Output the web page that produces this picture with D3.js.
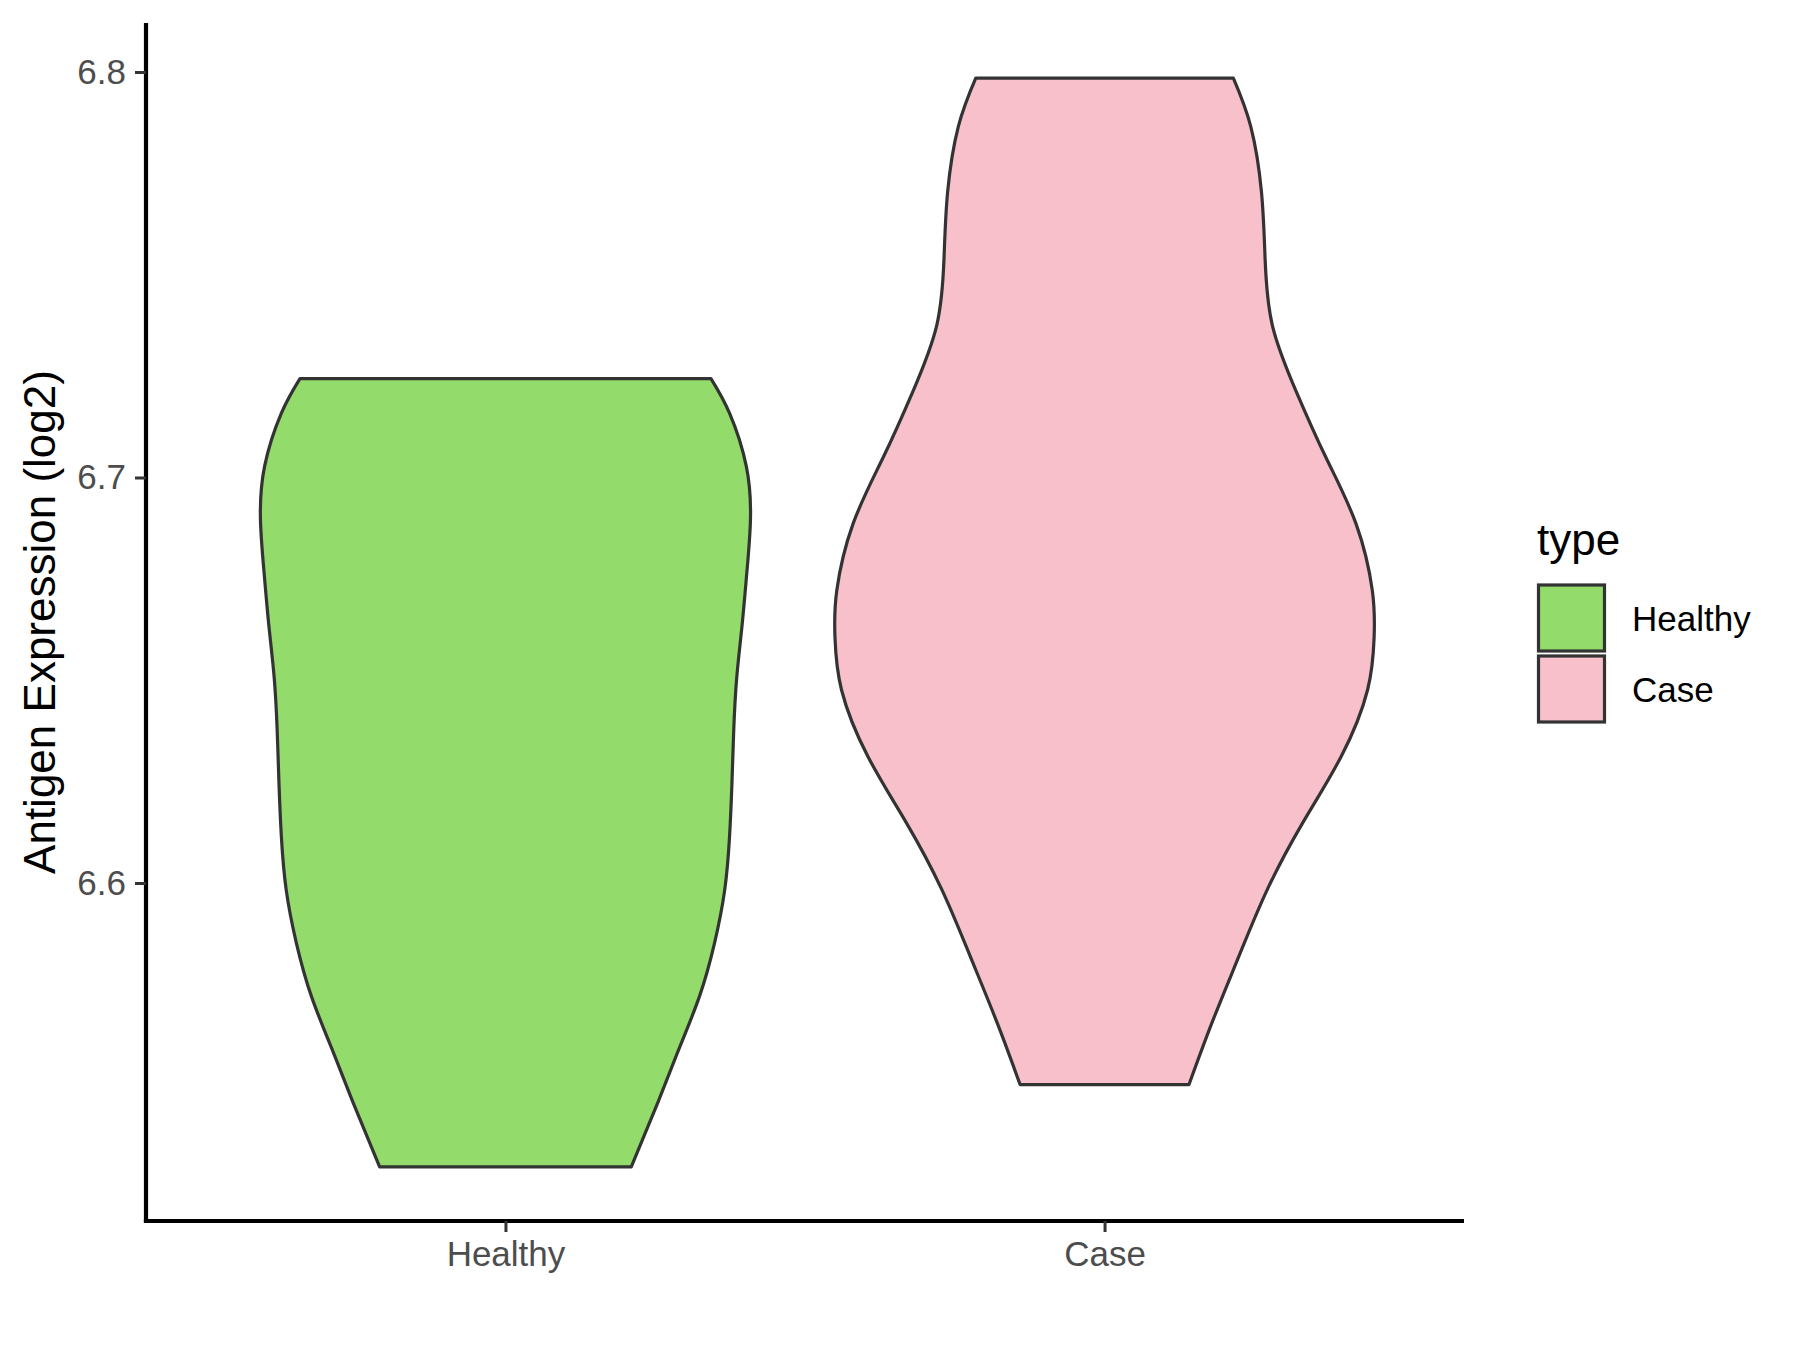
<!DOCTYPE html>
<html>
<head>
<meta charset="utf-8">
<script src="https://cdn.jsdelivr.net/npm/d3@7"></script>
<style>
  body { margin: 0; background: #fff; }
  text { font-family: Arial, "Liberation Sans", sans-serif; }
</style>
</head>
<body>
<script>
// groups and colours
var groups = ["Healthy", "Case"];
var fills = ["#93DB6A", "#F7C0CB"];
var yTicks = [6.6, 6.7, 6.8];

// violin outlines: value (log2) and half width (fraction of a category step)
var healthyValues = [6.5300, 6.5461, 6.5592, 6.5721, 6.5852, 6.5983, 6.6113, 6.6244, 6.6375, 6.6506, 6.6636, 6.6767, 6.6898, 6.7028, 6.7159, 6.7244];
var healthyWidths = [0.210, 0.255, 0.290, 0.324, 0.349, 0.366, 0.374, 0.378, 0.381, 0.386, 0.395, 0.403, 0.409, 0.402, 0.374, 0.343];

var caseValues = [6.5503, 6.5658, 6.5822, 6.5985, 6.6149, 6.6312, 6.6476, 6.6607, 6.6721, 6.6885, 6.7048, 6.7212, 6.7376, 6.7539, 6.7703, 6.7866, 6.7985];
var caseWidths = [0.141, 0.180, 0.225, 0.272, 0.331, 0.395, 0.439, 0.450, 0.447, 0.420, 0.370, 0.320, 0.280, 0.268, 0.262, 0.244, 0.215];

var width = 1800, height = 1350;
var margin = { top: 23, right: 336, bottom: 129, left: 146 };

var svg = d3.select("body").append("svg")
  .attr("width", width)
  .attr("height", height);

var x = d3.scalePoint()
  .domain(groups)
  .range([margin.left, width - margin.right])
  .padding(0.6);

var y = d3.scaleLinear()
  .domain([6.51665, 6.81208])
  .range([height - margin.bottom, margin.top]);

var violins = [
  { name: "Healthy", values: healthyValues, widths: healthyWidths, fill: fills[0] },
  { name: "Case", values: caseValues, widths: caseWidths, fill: fills[1] }
];

violins.forEach(function (v) {
  var pts = v.values.map(function (d, i) { return { v: d, w: v.widths[i] }; });
  var cx = x(v.name);
  var area = d3.area()
    .y(function (d) { return y(d.v); })
    .x0(function (d) { return cx - d.w * x.step(); })
    .x1(function (d) { return cx + d.w * x.step(); })
    .curve(d3.curveNatural);
  svg.append("path")
    .datum(pts)
    .attr("d", area)
    .attr("fill", v.fill)
    .attr("stroke", "#333333")
    .attr("stroke-width", 3.2)
    .attr("stroke-linejoin", "round");
});

// axes
var yAxis = svg.append("g")
  .attr("transform", "translate(" + margin.left + ",0)")
  .call(d3.axisLeft(y).tickValues(yTicks).tickFormat(d3.format(".1f")).tickSizeInner(11).tickSizeOuter(0).tickPadding(9));

var xAxis = svg.append("g")
  .attr("transform", "translate(0," + (height - margin.bottom) + ")")
  .call(d3.axisBottom(x).tickSizeInner(11).tickSizeOuter(0).tickPadding(9));

[yAxis, xAxis].forEach(function (a) {
  a.select(".domain").attr("stroke", "#000").attr("stroke-width", 4.2);
  a.selectAll(".tick line").attr("stroke", "#333333").attr("stroke-width", 3);
  a.selectAll(".tick text").attr("fill", "#4D4D4D").style("font-size", "35px");
});
// extend the axis lines so they meet at the corner
yAxis.select(".domain").attr("d", "M0," + (height - margin.bottom + 2.1) + "V" + margin.top);
xAxis.select(".domain").attr("d", "M" + (margin.left - 2.1) + ",0H" + (width - margin.right));

svg.append("text")
  .attr("transform", "translate(55," + ((margin.top + height - margin.bottom) / 2) + ") rotate(-90)")
  .attr("text-anchor", "middle")
  .attr("fill", "#000")
  .style("font-size", "44px")
  .text("Antigen Expression (log2)");

// legend
var legend = svg.append("g").attr("transform", "translate(1537,0)");
legend.append("text")
  .attr("x", 0)
  .attr("y", 555)
  .attr("fill", "#000")
  .style("font-size", "44px")
  .text("type");

var keySize = 66;
groups.forEach(function (g, i) {
  var top = 585 + i * 71;
  legend.append("rect")
    .attr("x", 1.5)
    .attr("y", top)
    .attr("width", keySize)
    .attr("height", keySize)
    .attr("fill", fills[i])
    .attr("stroke", "#333333")
    .attr("stroke-width", 3.2);
  legend.append("text")
    .attr("x", 95)
    .attr("y", top + keySize / 2)
    .attr("dy", "0.36em")
    .attr("fill", "#000")
    .style("font-size", "35px")
    .text(g);
});
</script>
</body>
</html>
